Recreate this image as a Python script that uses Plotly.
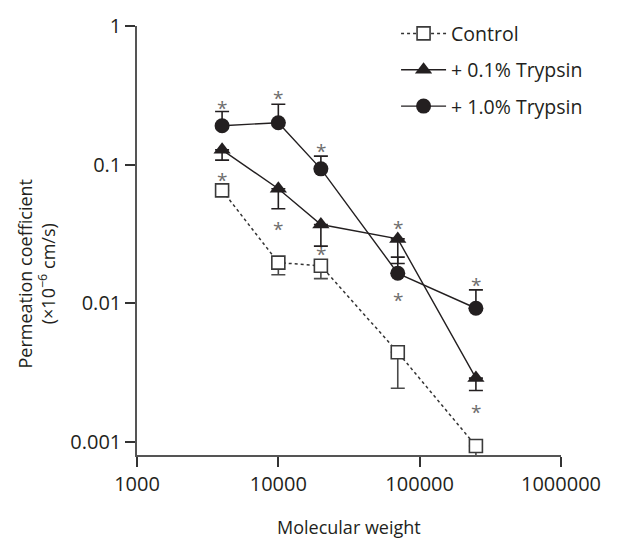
import math
import plotly.graph_objects as go

# ---- data ----
molecular_weight = [4000, 10000, 20000, 70000, 250000]

control = [0.0654, 0.0197, 0.0187, 0.00445, 0.00094]
control_err_minus = [0.0, 0.0036, 0.0036, 0.0020, 0.00015]

trypsin_01 = [0.128, 0.0672, 0.0371, 0.0292, 0.0029]
trypsin_01_err_minus = [0.020, 0.019, 0.0112, 0.0098, 0.00054]

trypsin_10 = [0.191, 0.201, 0.0934, 0.0165, 0.00924]
trypsin_10_err_plus = [0.051, 0.072, 0.022, 0.0051, 0.0033]

series_names = ["Control", "+ 0.1% Trypsin", "+ 1.0% Trypsin"]

x_tick_vals = [1000, 10000, 100000, 1000000]
x_tick_text = ["1000", "10000", "100000", "1000000"]
y_tick_vals = [1, 0.1, 0.01, 0.001]
y_tick_text = ["1", "0.1", "0.01", "0.001"]

# significance asterisks: (series, point index, anchor, pixel shift)
star_marks = [
    ("t10", 0, "top", 3.6),
    ("t10", 1, "top", 6),
    ("t10", 2, "top", 4.7),
    ("t01", 3, "center", 11),
    ("t10", 4, "top", 5),
    ("t01", 4, "bottom", -21),
    ("t01", 1, "bottom", -20),
    ("ctl", 2, "center", 12),
    ("ctl", 0, "center", 10.4),
    ("t10", 3, "center", -27),
]

FONT = "Open Sans"
INK = "#231f20"
TICK_SIZE = 20

fig = go.Figure()

fig.add_trace(go.Scatter(
    x=molecular_weight, y=control, name=series_names[0], legendgroup="a",
    mode="lines+markers",
    line=dict(color="#333333", width=1.5, dash="dot"),
    marker=dict(symbol="square", size=13, color="white",
                line=dict(color="#3a3a3a", width=1.6)),
    error_y=dict(type="data", symmetric=False,
                 array=[0] * len(control), arrayminus=control_err_minus,
                 color="#4a4a4a", thickness=1.6, width=7),
))
fig.add_trace(go.Scatter(
    x=molecular_weight, y=trypsin_01, name=series_names[1], legendgroup="b",
    mode="lines+markers",
    line=dict(color=INK, width=1.4),
    marker=dict(symbol="triangle-up", size=15, color=INK),
    error_y=dict(type="data", symmetric=False,
                 array=[0] * len(trypsin_01), arrayminus=trypsin_01_err_minus,
                 color=INK, thickness=1.6, width=7),
))
fig.add_trace(go.Scatter(
    x=molecular_weight, y=trypsin_10, name=series_names[2], legendgroup="c",
    mode="lines+markers",
    line=dict(color=INK, width=1.4),
    marker=dict(symbol="circle", size=15, color=INK),
    error_y=dict(type="data", symmetric=False,
                 array=trypsin_10_err_plus, arrayminus=[0] * len(trypsin_10),
                 color=INK, thickness=1.6, width=7),
))

lookup = {
    "ctl": (control, [0] * 5, control_err_minus),
    "t01": (trypsin_01, [0] * 5, trypsin_01_err_minus),
    "t10": (trypsin_10, trypsin_10_err_plus, [0] * 5),
}
annotations = []
for key, i, anchor, shift in star_marks:
    vals, up, dn = lookup[key]
    v = vals[i]
    if anchor == "top":
        v = v + up[i]
    elif anchor == "bottom":
        v = v - dn[i]
    annotations.append(dict(
        x=math.log10(molecular_weight[i]), y=math.log10(v), xref="x", yref="y",
        text="*", showarrow=False, yshift=shift, xanchor="center", yanchor="middle",
        font=dict(family=FONT, size=19, color="#6d6d6d"),
    ))

# axis titles
annotations.append(dict(
    x=0.5, y=0, xref="paper", yref="paper", yanchor="middle", yshift=-72,
    text="Molecular weight", showarrow=False,
    font=dict(family=FONT, size=18, color=INK),
))
annotations.append(dict(
    x=0, y=0.5, xref="paper", yref="paper", xanchor="center", yanchor="middle",
    xshift=-101, yshift=-33, textangle=-90,
    text="Permeation coefficient<br>(×10<sup>−6</sup> cm/s)", showarrow=False,
    font=dict(family=FONT, size=18, color=INK),
))

fig.update_layout(
    width=632, height=538,
    margin=dict(l=137, r=71, t=19, b=83, pad=0),
    paper_bgcolor="white", plot_bgcolor="white",
    font=dict(family=FONT, size=TICK_SIZE, color=INK),
    showlegend=True,
    legend=dict(x=0.611, y=1.0275, xanchor="left", yanchor="top",
                bgcolor="rgba(0,0,0,0)", tracegroupgap=8, itemwidth=45,
                font=dict(family=FONT, size=19.5, color=INK)),
    annotations=annotations,
)
fig.update_xaxes(
    type="log", range=[3, 6], showgrid=False, zeroline=False,
    showline=True, linecolor="#555555", linewidth=1.5,
    ticks="outside", ticklen=10, tickwidth=1.5, tickcolor="#333333",
    tickvals=x_tick_vals, ticktext=x_tick_text,
    tickfont=dict(family=FONT, size=TICK_SIZE, color=INK),
)
fig.update_yaxes(
    type="log", range=[-3.092, 0], showgrid=False, zeroline=False,
    showline=True, linecolor="#555555", linewidth=1.5,
    ticks="outside", ticklen=10, tickwidth=1.5, tickcolor="#333333",
    tickvals=y_tick_vals, ticktext=y_tick_text,
    tickfont=dict(family=FONT, size=TICK_SIZE, color=INK),
)

fig.write_html(
    "out.html",
    config={"displayModeBar": False},
    post_script="document.body.style.margin='0';document.body.style.overflow='hidden';",
)
